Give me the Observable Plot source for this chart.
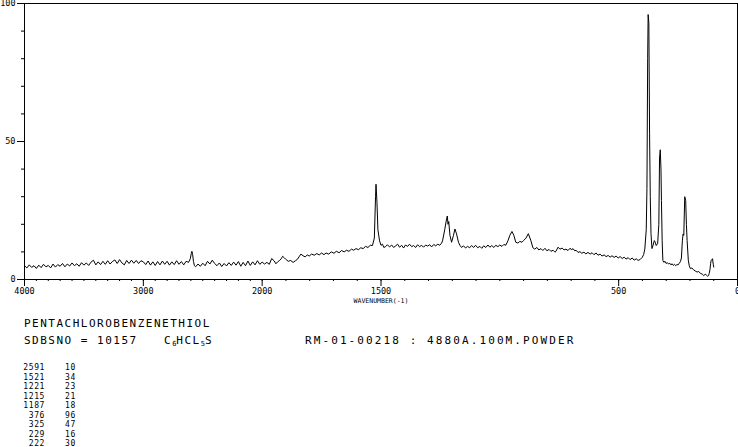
<!DOCTYPE html>
<html>
<head>
<meta charset="utf-8">
<script src="https://cdn.jsdelivr.net/npm/d3@7"></script>
<script src="https://cdn.jsdelivr.net/npm/@observablehq/plot@0.6"></script>
<style>
  body { margin: 0; background: #fff; }
  #wrap { position: relative; width: 738px; height: 447px; overflow: hidden; background: #fff; }
  #chart { position: absolute; left: 0; top: 0; }
  .t { position: absolute; font-family: "DejaVu Sans Mono", monospace; color: #000; white-space: pre; line-height: 1; }
  .big { font-size: 11px; letter-spacing: 1.5px; }
  .small { font-size: 8px; letter-spacing: 0.6px; }
  sub { font-size: 7px; vertical-align: -2px; letter-spacing: 0; }
</style>
</head>
<body>
<div id="wrap">
  <div id="chart"></div>
</div>
<script>
// Raman spectrum: [wavenumber (cm-1), relative intensity]
const spectrumPoints = [
  [4000,5.0],[3980,4.2],[3960,5.3],[3940,4.4],[3920,5.0],[3900,4.0],[3880,5.2],[3860,4.3],[3840,5.5],[3820,4.6],
  [3800,5.1],[3780,4.2],[3760,5.6],[3740,4.5],[3720,5.4],[3700,4.8],[3680,5.8],[3660,4.6],[3640,5.6],[3620,4.9],
  [3600,6.0],[3580,5.0],[3560,5.7],[3540,4.8],[3520,6.1],[3500,5.2],[3480,6.0],[3460,5.1],[3440,6.3],[3420,7.0],
  [3400,5.3],[3380,6.4],[3360,5.4],[3340,6.6],[3320,5.5],[3300,6.8],[3280,5.6],[3260,6.5],[3240,7.1],[3220,5.8],
  [3200,7.2],[3180,6.0],[3160,5.3],[3140,6.9],[3120,5.8],[3100,7.0],[3080,5.9],[3060,6.9],[3040,5.8],[3020,6.8],
  [3000,6.4],[2980,5.4],[2960,6.7],[2940,5.2],[2920,6.4],[2900,5.1],[2880,6.5],[2860,5.3],[2840,6.7],[2820,5.5],
  [2800,6.6],[2780,5.2],[2760,6.4],[2740,5.4],[2720,6.8],[2700,5.5],[2680,6.5],[2660,5.3],[2640,6.6],[2620,6.2],
  [2605,7.5],[2596,9.5],[2591,10.2],[2585,9.0],[2578,6.5],[2570,5.0],[2560,4.6],[2540,5.6],[2520,4.8],[2500,5.9],
  [2480,5.0],[2460,6.6],[2440,5.6],[2420,7.0],[2400,5.8],[2380,5.0],[2360,6.0],[2340,4.7],[2320,5.8],[2300,4.9],
  [2280,6.1],[2260,5.1],[2240,6.3],[2220,5.2],[2200,6.5],[2180,4.8],[2160,6.2],[2140,5.0],[2120,6.7],[2100,5.1],
  [2080,6.4],[2060,5.3],[2040,6.8],[2020,5.5],[2000,6.3],[1990,5.6],[1980,6.2],[1970,5.5],[1960,7.6],[1950,6.8],
  [1942,5.7],[1935,6.4],[1928,6.8],[1920,7.5],[1914,8.4],[1906,7.8],[1899,7.2],[1890,6.6],[1880,6.9],[1870,6.2],
  [1860,6.8],[1852,7.3],[1845,8.2],[1837,9.2],[1828,8.6],[1819,8.2],[1810,8.9],[1802,8.5],[1792,9.2],[1781,8.8],
  [1770,9.4],[1760,8.9],[1750,9.6],[1740,9.0],[1731,9.6],[1720,9.2],[1709,10.0],[1698,9.5],[1688,10.2],[1676,9.7],
  [1666,10.5],[1655,10.0],[1645,10.6],[1635,10.2],[1624,11.0],[1615,10.6],[1605,11.2],[1595,10.8],[1585,11.5],[1575,11.2],
  [1565,12.0],[1555,11.6],[1545,12.4],[1536,12.3],[1528,15.0],[1523,30.0],[1521,34.5],[1517,28.0],[1513,18.0],[1506,14.0],
  [1500,12.4],[1494,12.8],[1488,11.6],[1481,11.9],[1473,12.6],[1464,11.8],[1455,12.5],[1447,11.6],[1438,12.2],[1430,12.8],
  [1422,11.7],[1413,12.4],[1405,11.4],[1397,12.5],[1388,12.0],[1380,12.8],[1371,11.9],[1363,12.3],[1354,11.6],[1346,12.6],
  [1338,11.9],[1329,12.4],[1321,11.7],[1312,12.5],[1304,12.1],[1295,12.6],[1287,11.8],[1278,12.7],[1270,12.2],[1261,12.8],
  [1253,12.4],[1245,13.2],[1241,14.0],[1232,18.0],[1224,22.0],[1221,23.0],[1218,20.0],[1215,21.0],[1210,16.0],[1203,13.5],
  [1195,16.0],[1189,18.3],[1182,16.5],[1174,13.5],[1168,12.4],[1161,11.6],[1153,12.2],[1144,11.4],[1136,12.0],[1127,11.5],
  [1119,12.3],[1110,11.6],[1102,12.4],[1093,11.5],[1084,12.0],[1076,11.3],[1068,12.2],[1059,11.6],[1050,12.5],[1042,11.7],
  [1034,12.3],[1025,11.6],[1017,12.4],[1008,11.9],[1000,12.5],[991,12.0],[983,12.7],[975,12.4],[966,14.0],[958,16.0],
  [949,17.4],[941,16.0],[933,13.5],[924,13.2],[916,13.8],[907,13.5],[899,14.2],[890,15.0],[880,16.6],[869,14.0],
  [861,11.5],[853,11.0],[844,11.6],[836,10.7],[827,11.2],[819,10.5],[810,11.3],[802,10.4],[793,10.9],[785,10.2],
  [776,10.6],[768,9.9],[764,10.2],[755,11.7],[747,11.0],[738,11.4],[730,10.7],[722,11.0],[713,10.5],[705,11.3],
  [697,10.8],[692,11.2],[685,10.4],[679,10.6],[671,9.8],[663,10.1],[655,9.5],[646,9.9],[638,9.3],[629,9.8],
  [620,9.2],[612,9.7],[604,9.0],[595,9.6],[587,8.8],[578,9.2],[570,8.5],[561,8.9],[553,8.3],[544,8.7],
  [536,8.1],[528,8.6],[519,8.0],[511,8.5],[502,7.8],[494,8.3],[485,7.6],[477,8.1],[469,7.4],[460,7.9],
  [452,7.2],[443,7.8],[435,7.0],[426,7.5],[418,6.9],[409,7.3],[401,8.0],[395,9.0],[390,11.0],[384,18.0],
  [381,33.0],[378,80.0],[376,96.0],[373,93.0],[370,53.0],[367,30.0],[364,16.7],[360,11.2],[355,12.5],[350,14.1],
  [346,13.5],[342,12.3],[336,13.0],[331,20.0],[328,44.0],[325,47.0],[322,40.0],[320,28.6],[317,14.0],[314,6.9],
  [310,6.2],[305,6.6],[300,5.8],[295,6.1],[290,5.6],[285,5.9],[280,5.3],[275,5.7],[270,5.1],[265,5.5],
  [260,5.0],[255,5.4],[250,5.3],[245,5.9],[240,6.5],[236,7.8],[232,14.0],[229,16.5],[226,16.0],[222,30.0],
  [218,28.6],[215,20.0],[212,14.1],[207,7.0],[203,5.0],[198,3.9],[192,4.2],[185,3.5],[178,3.1],[170,2.7],
  [163,2.9],[156,2.2],[149,2.0],[142,1.4],[136,1.9],[131,1.6],[126,1.2],[122,1.4],[119,2.2],[116,3.5],
  [113,5.8],[111,6.9],[108,7.3],[105,7.5],[102,5.5],[100,4.5]
];

// The instrument's wavenumber axis is compressed 2:1 above 2000 cm-1.
const axisBreak = 2000;
const toAxis = w => (w <= axisBreak ? w : axisBreak + (w - axisBreak) / 2);
const fromAxis = u => (u <= axisBreak ? u : axisBreak + (u - axisBreak) * 2);

const spectrum = spectrumPoints.map(([w, v]) => ({u: toAxis(w), v}));

// Axis ticks
const xMajorTicks = [4000, 3000, 2000, 1500, 500, 0];
const xMinorTicks = d3.range(0, 4001, 100);
const yMajorTicks = [0, 50, 100];
const yMinorTicks = [10, 20, 30, 40, 60, 70, 80, 90];

// Text
const compoundName = "PENTACHLOROBENZENETHIOL";
const sdbsLabel = "SDBSNO = 10157";
const sampleInfo = "RM-01-00218 : 4880A.100M.POWDER";
const peakWavenumbers = [2591, 1521, 1221, 1215, 1187, 376, 325, 229, 222];
const peakIntensities = [10, 34, 23, 21, 18, 96, 47, 16, 30];

const H = 306;

const chart = Plot.plot({
  width: 738,
  height: H,
  marginLeft: 24,
  marginRight: 1,
  marginTop: 3,
  marginBottom: H - 279,
  style: {fontFamily: "DejaVu Sans Mono, monospace", fontSize: "8.5px", background: "#fff", color: "#000", overflow: "visible"},
  x: {type: "linear", domain: [toAxis(4000), 0]},
  y: {domain: [0, 100]},
  marks: [
    Plot.frame({stroke: "#000", strokeWidth: 1}),
    Plot.axisY({ticks: yMinorTicks, tickSize: 3, tickFormat: () => "", label: null, stroke: "#000", strokeWidth: 1}),
    Plot.axisY({ticks: yMajorTicks, tickSize: 7, tickPadding: 2, label: null, stroke: "#000", strokeWidth: 1, fill: "#000", fontSize: 8.5}),
    Plot.axisX({ticks: xMinorTicks.map(toAxis), tickSize: 2, tickFormat: () => "", label: null, stroke: "#000", strokeWidth: 1}),
    Plot.axisX({ticks: xMajorTicks.map(toAxis), tickSize: 7, tickPadding: 1, tickFormat: u => String(Math.round(fromAxis(u))), label: null, stroke: "#000", strokeWidth: 1, fill: "#000", fontSize: 8.5}),
    Plot.axisX({ticks: [], tickSize: 0, label: "WAVENUMBER(-1)", labelAnchor: "center", labelArrow: "none", labelOffset: 23, fontSize: 6.5, fill: "#000"}),
    Plot.line(spectrum, {x: "u", y: "v", stroke: "#000", strokeWidth: 1, curve: "linear"})
  ]
});
document.getElementById("chart").appendChild(chart);

const wrap = document.getElementById("wrap");
function addText(html, cls, left, top) {
  const d = document.createElement("div");
  d.className = "t " + cls;
  d.style.left = left + "px";
  d.style.top = top + "px";
  d.innerHTML = html;
  wrap.appendChild(d);
  return d;
}
addText(compoundName, "big", 24, 318);
addText(sdbsLabel, "big", 24, 335);
addText("C<sub>6</sub>HCL<sub>5</sub>S", "big", 164, 335);
const info = addText(sampleInfo, "big", 305, 335);
info.style.letterSpacing = "2.1px";
peakWavenumbers.forEach((w, k) => {
  const d = addText(String(w), "small", 0, 364 + k * 9.5);
  d.style.width = "45px";
  d.style.textAlign = "right";
  addText(String(peakIntensities[k]), "small", 65, 364 + k * 9.5);
});
</script>
</body>
</html>
